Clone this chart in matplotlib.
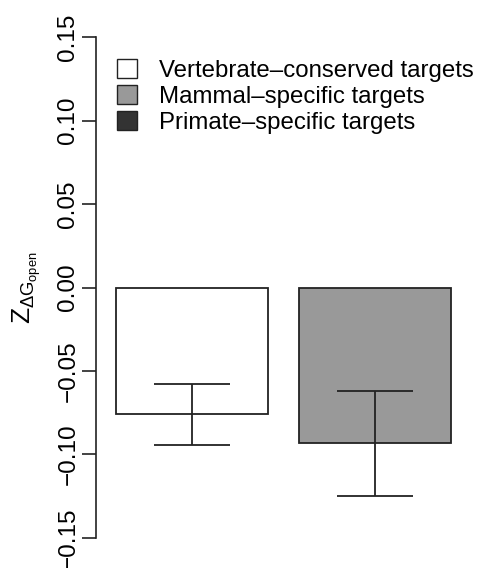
import matplotlib
matplotlib.use('Agg')
import matplotlib.pyplot as plt
from matplotlib.patches import Patch

# data
groups = ['Vertebrate\u2013conserved targets', 'Mammal\u2013specific targets', 'Primate\u2013specific targets']
colors = ['#ffffff', '#999999', '#333333']
means = [-0.076, -0.093]
err_top = [-0.0575, -0.062]
err_bottom = [-0.0946, -0.1246]
yticks = [-0.15, -0.10, -0.05, 0.00, 0.05, 0.10, 0.15]

plt.rcParams['font.family'] = ['Liberation Sans', 'DejaVu Sans']
plt.rcParams['mathtext.fontset'] = 'custom'
plt.rcParams['mathtext.rm'] = 'Liberation Sans'
plt.rcParams['mathtext.it'] = 'Liberation Sans'

fig = plt.figure(figsize=(4.78, 5.68), dpi=100)
ax = fig.add_axes([0.2008, 0.0176, 0.784, 0.9524])

# R barplot layout: width 1, space 0.2
x = [0.2 + 1.2 * i + 0.5 for i in range(len(means))]
ax.bar(x, means, width=1.0, color=colors[:len(means)], edgecolor='#222222', linewidth=1.3)
ax.vlines(x, err_bottom, err_top, color='#222222', linewidth=1.3)
cap = 0.25
for xi, lo, hi in zip(x, err_bottom, err_top):
    ax.hlines([lo, hi], xi - cap, xi + cap, color='#222222', linewidth=1.3)

ax.set_xlim(0.069, 2.53)
ax.set_ylim(-0.162, 0.162)
ax.set_yticks(yticks)
ax.set_yticklabels([('%.2f' % v).replace('-', '\u2212') for v in yticks],
                   rotation=90, va='center', fontsize=17.5)
ax.tick_params(axis='y', length=10, width=1.2, pad=2, color='#222222')
ax.set_xticks([])
for s in ['top', 'right', 'bottom']:
    ax.spines[s].set_visible(False)
ax.spines['left'].set_bounds(-0.15, 0.15)
ax.spines['left'].set_linewidth(1.2)
ax.spines['left'].set_color('#222222')

ax.set_ylabel(r'$Z_{\Delta G_{\mathrm{open}}}$', fontsize=19, labelpad=10)

handles = [Patch(facecolor=c, edgecolor='#222222', linewidth=1.0) for c in colors]
ax.legend(handles, groups, loc='upper left', bbox_to_anchor=(0.03, 0.94), frameon=False,
          fontsize=17.3, handlelength=0.85, handleheight=0.85, handletextpad=0.9,
          labelspacing=0.12, borderaxespad=0)

fig.savefig('out.png', dpi=100)
